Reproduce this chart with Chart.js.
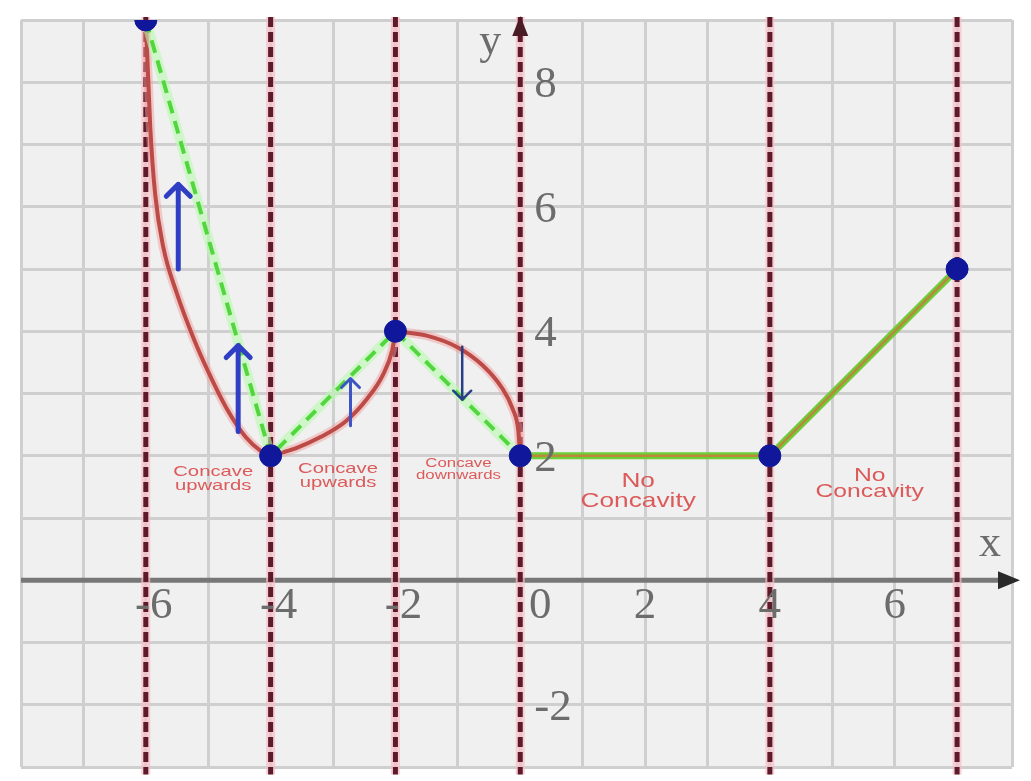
<!DOCTYPE html>
<html>
<head>
<meta charset="utf-8">
<title>Concavity</title>
<script src="https://cdn.jsdelivr.net/npm/chart.js@4.4.1/dist/chart.umd.min.js"></script>
<style>
  html, body { margin: 0; padding: 0; background: #fff; }
  #wrap { width: 1031px; height: 781px; }
</style>
</head>
<body>
<div id="wrap"><canvas id="concavityChart"></canvas></div>
<script>
// critical points of f
const pointX = [-6, -4, -2, 0, 4, 7];
const pointY = [9, 2, 4, 2, 2, 5];

// red curve pieces
const curveAX = [-6, -5.93, -5.85, -5.72, -5.5, -5.24, -5, -4.7, -4.4, -4.15, -4];
const curveAY = [9, 7.3, 6.2, 5.35, 4.6, 3.9, 3.35, 2.75, 2.3, 2.07, 2];
const curveBX = [-4, -3.6, -3.2, -2.8, -2.45, -2.2, -2.05, -2];
const curveBY = [2, 2.12, 2.3, 2.55, 2.92, 3.3, 3.7, 4];
const curveCX = [-2, -1.5, -1, -0.6, -0.3, -0.12, -0.03, 0];
const curveCY = [4, 3.93, 3.74, 3.45, 3.1, 2.75, 2.4, 2];
const lineX = [0, 4, 7];
const lineY = [2, 2, 5];

// blue arrows: x, start y, end y
const arrowX = [-5.48, -4.52, -2.72, -0.93];
const arrowFrom = [5.0, 2.39, 2.48, 3.75];
const arrowTo = [6.36, 3.77, 3.24, 2.9];

// dashed verticals run a bit past the grid
const vLineSpan = [9.05, -3.12];

const xTicks = [-6, -4, -2, 0, 2, 4, 6];
const yTicks = [-2, 2, 4, 6, 8];

const noteText = [
    ['Concave', 'upwards'],
    ['Concave', 'upwards'],
    ['Concave', 'downwards'],
    ['No', 'Concavity'],
    ['No', 'Concavity']
];
const noteX = [-4.92, -2.92, -0.99, 1.89, 5.6];
const noteY = [1.63, 1.67, 1.78, 1.43, 1.55];

function xy(xs, ys) {
    return xs.map((x, i) => ({ x: x, y: ys[i] }));
}

const datasets = [];

// blue dots
datasets.push({
    data: xy(pointX, pointY),
    showLine: false,
    pointRadius: 11,
    pointHoverRadius: 11,
    backgroundColor: '#10179a',
    borderColor: '#10179a',
    order: 0
});

// red curves (with soft halo)
[[curveAX, curveAY], [curveBX, curveBY], [curveCX, curveCY]].forEach(function(c) {
    datasets.push({
        data: xy(c[0], c[1]),
        showLine: true,
        pointRadius: 0,
        borderColor: 'rgba(240,160,160,0.5)',
        borderWidth: 9,
        cubicInterpolationMode: 'monotone',
        order: 6
    });
    datasets.push({
        data: xy(c[0], c[1]),
        showLine: true,
        pointRadius: 0,
        borderColor: 'rgb(188,74,70)',
        borderWidth: 4,
        cubicInterpolationMode: 'monotone',
        order: 5
    });
});

// green dashed secants
datasets.push({
    data: xy(pointX.slice(0, 4), pointY.slice(0, 4)),
    showLine: true,
    pointRadius: 0,
    borderColor: 'rgba(185,250,175,0.6)',
    borderWidth: 10,
    order: 4.5
});
datasets.push({
    data: xy(pointX.slice(0, 4), pointY.slice(0, 4)),
    showLine: true,
    pointRadius: 0,
    borderColor: 'rgb(82,214,62)',
    borderWidth: 4,
    borderDash: [13, 8],
    order: 4
});

// straight pieces: green with orange core
datasets.push({
    data: xy(lineX, lineY),
    showLine: true,
    pointRadius: 0,
    borderColor: 'rgb(108,206,56)',
    borderWidth: 7,
    order: 4.6
});
datasets.push({
    data: xy(lineX, lineY),
    showLine: true,
    pointRadius: 0,
    borderColor: 'rgba(200,125,60,0.85)',
    borderWidth: 2.5,
    order: 4.2
});

// dashed vertical lines at the critical x values
pointX.forEach(function(x) {
    datasets.push({
        data: [{ x: x, y: vLineSpan[0] }, { x: x, y: vLineSpan[1] }],
        showLine: true,
        pointRadius: 0,
        borderColor: 'rgba(250,190,200,0.7)',
        borderWidth: 9,
        clip: false,
        order: 21
    });
    datasets.push({
        data: [{ x: x, y: vLineSpan[0] }, { x: x, y: vLineSpan[1] }],
        showLine: true,
        pointRadius: 0,
        borderColor: 'rgb(92,26,42)',
        borderWidth: 5,
        borderDash: [10, 5],
        clip: false,
        order: 20
    });
});

const arrowStyle = [
    { width: 5, head: 12, color: 'rgb(48,62,196)' },
    { width: 5, head: 12, color: 'rgb(48,62,196)' },
    { width: 3, head: 9, color: 'rgb(62,84,196)' },
    { width: 2.5, head: 9, color: 'rgb(40,62,135)' }
];

const noteStyle = [
    { size: 15, sx: 1.35, gap: 14 },
    { size: 15, sx: 1.35, gap: 14 },
    { size: 12, sx: 1.4, gap: 12 },
    { size: 21, sx: 1.25, gap: 20 },
    { size: 19, sx: 1.3, gap: 16 }
];

const sketchPlugin = {
    id: 'sketch',
    beforeDraw(chart) {
        const ctx = chart.ctx, a = chart.chartArea;
        ctx.save();
        ctx.fillStyle = '#ffffff';
        ctx.fillRect(0, 0, chart.width, chart.height);
        ctx.fillStyle = '#f0f0f0';
        ctx.fillRect(a.left, a.top, a.right - a.left, a.bottom - a.top);
        ctx.restore();
    },
    beforeDatasetsDraw(chart) {
        const ctx = chart.ctx, a = chart.chartArea;
        const ys = chart.scales.y;
        const y0 = ys.getPixelForValue(0);
        ctx.save();
        // x axis
        ctx.strokeStyle = '#777777';
        ctx.lineWidth = 5;
        ctx.beginPath();
        ctx.moveTo(a.left, y0);
        ctx.lineTo(a.right, y0);
        ctx.stroke();
        ctx.fillStyle = '#2a2a2a';
        ctx.beginPath();
        ctx.moveTo(a.right + 8, y0);
        ctx.lineTo(a.right - 14, y0 - 9);
        ctx.lineTo(a.right - 14, y0 + 9);
        ctx.closePath();
        ctx.fill();
        ctx.restore();
    },
    afterDatasetsDraw(chart) {
        const ctx = chart.ctx, a = chart.chartArea;
        const xs = chart.scales.x, ys = chart.scales.y;
        const x0 = xs.getPixelForValue(0), y0 = ys.getPixelForValue(0);
        ctx.save();
        // y axis arrowhead
        ctx.fillStyle = '#4b1b26';
        ctx.beginPath();
        ctx.moveTo(x0, a.top - 4);
        ctx.lineTo(x0 - 8, a.top + 16);
        ctx.lineTo(x0 + 8, a.top + 16);
        ctx.closePath();
        ctx.fill();

        // blue arrows
        ctx.lineCap = 'round';
        ctx.lineJoin = 'round';
        arrowX.forEach(function(x, i) {
            const st = arrowStyle[i];
            const px = xs.getPixelForValue(x);
            const p0 = ys.getPixelForValue(arrowFrom[i]);
            const p1 = ys.getPixelForValue(arrowTo[i]);
            const dir = p1 < p0 ? -1 : 1;
            ctx.strokeStyle = st.color;
            ctx.lineWidth = st.width;
            ctx.beginPath();
            ctx.moveTo(px, p0);
            ctx.lineTo(px, p1);
            ctx.moveTo(px - st.head, p1 - dir * st.head);
            ctx.lineTo(px, p1);
            ctx.lineTo(px + st.head, p1 - dir * st.head);
            ctx.stroke();
        });

        // tick labels
        ctx.fillStyle = '#6c6c6c';
        ctx.font = '45px "Liberation Serif", serif';
        ctx.textBaseline = 'middle';
        ctx.textAlign = 'center';
        xTicks.forEach(function(v) {
            const off = v < 0 ? 8 : (v === 0 ? 20 : 0);
            ctx.fillText(String(v), xs.getPixelForValue(v) + off, y0 + 26);
        });
        ctx.textAlign = 'left';
        yTicks.forEach(function(v) {
            ctx.fillText(String(v), x0 + 14, ys.getPixelForValue(v) + 3);
        });
        ctx.font = '44px "Liberation Serif", serif';
        ctx.textAlign = 'center';
        ctx.fillText('y', x0 - 30, a.top + 22);
        ctx.fillText('x', a.right - 22, y0 - 36);

        // concavity notes
        ctx.fillStyle = '#dc5a5a';
        noteText.forEach(function(lines, i) {
            const st = noteStyle[i];
            const cx = xs.getPixelForValue(noteX[i]);
            const cy = ys.getPixelForValue(noteY[i]);
            ctx.save();
            ctx.translate(cx, cy - st.gap / 2);
            ctx.scale(st.sx, 1);
            ctx.font = st.size + 'px "Liberation Sans", sans-serif';
            ctx.textAlign = 'center';
            ctx.textBaseline = 'middle';
            lines.forEach(function(t, k) {
                ctx.fillText(t, 0, k * st.gap);
            });
            ctx.restore();
        });
        ctx.restore();
    }
};

new Chart(document.getElementById('concavityChart'), {
    type: 'scatter',
    data: { datasets: datasets },
    options: {
        responsive: true,
        maintainAspectRatio: false,
        animation: false,
        layout: { padding: { left: 21, right: 19, top: 20, bottom: 14 } },
        plugins: {
            legend: { display: false },
            tooltip: { enabled: false }
        },
        scales: {
            x: {
                type: 'linear',
                min: -8,
                max: 7.88,
                ticks: { stepSize: 1, display: false },
                grid: { color: '#cfcfcf', lineWidth: 3, drawTicks: false },
                border: { display: false }
            },
            y: {
                type: 'linear',
                min: -3,
                max: 9,
                ticks: { stepSize: 1, display: false },
                grid: { color: '#cfcfcf', lineWidth: 3, drawTicks: false },
                border: { display: false }
            }
        }
    },
    plugins: [sketchPlugin]
});
</script>
</body>
</html>
